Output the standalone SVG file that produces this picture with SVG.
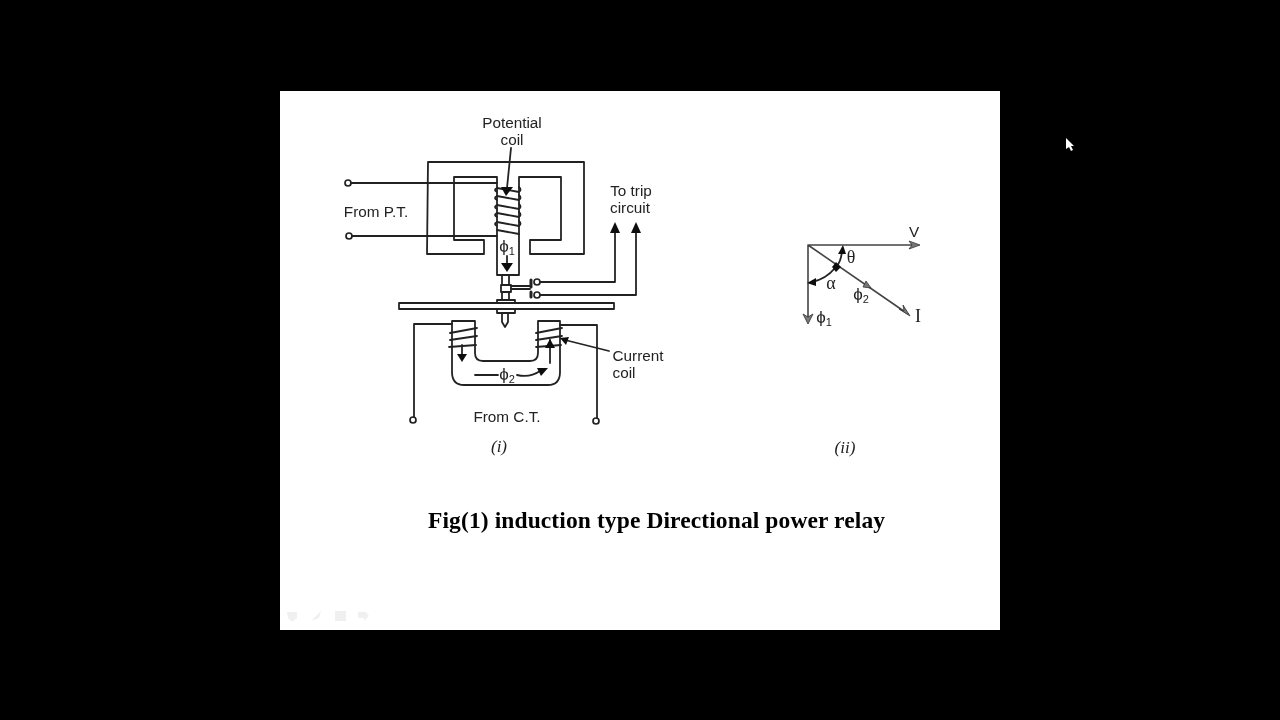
<svg xmlns="http://www.w3.org/2000/svg" width="1280" height="720" viewBox="0 0 1280 720">
<style>
.l{fill:none;stroke:#222;stroke-width:1.8;stroke-linejoin:round;stroke-linecap:round}
.t{stroke-width:1.6;stroke:#444}
.a{fill:#111;stroke:none}
.g{fill:#777;stroke:#333;stroke-width:.8}
.w{fill:#fff;stroke:#222;stroke-width:1.7}
text{font-family:"Liberation Sans",Arial,sans-serif;font-size:15.3px;fill:#222;text-anchor:middle}
.p{font-size:17px}
.s{font-size:11px}
.r{font-family:"Liberation Serif","Times New Roman",serif;font-size:18px}
.i{font-family:"Liberation Serif","Times New Roman",serif;font-style:italic;font-size:17px}
.c{font-family:"Liberation Serif","Times New Roman",serif;font-weight:bold;font-size:23.5px;fill:#000;text-anchor:start}
</style>
<defs>
<filter id="b" x="-5%" y="-5%" width="110%" height="110%"><feGaussianBlur stdDeviation="0.45"/></filter>
</defs>
<rect width="1280" height="720" fill="#000"/>
<rect id="slide" x="280" y="91" width="720" height="539" fill="#fff"/>
<g filter="url(#b)">
<g id="upper-core">
<path class="l" d="M428 162H584V254H530V240H561V177H519V275H497V177H454V240H484V254H427Z"/>
</g>
<g id="potential-coil">
<path class="l" d="M497 188L519 192Q522 190 519 187M497 196L519 200Q522 198 519 195M497 205L519 209Q522 207 519 204M497 213L519 217Q522 215 519 212M497 222L519 226Q522 224 519 221M497 230L519 234"/>
<path class="l" d="M497 188Q493 190 497 192M497 196Q493 198 497 200M497 205Q493 207 497 209M497 213Q493 215 497 217M497 222Q493 224 497 226"/>
</g>
<g id="spindle">
<path class="l" d="M502 275V285M509 275V285M502 292V300M509 292V300"/>
<rect class="l" x="501" y="285" width="10" height="7"/>
<path class="l" d="M511 286H530M511 289H530"/>
<path class="l" d="M531 280V287M531 292V297" style="stroke-width:3"/>
<rect class="l" x="497" y="300" width="18" height="3"/>
<rect class="l" x="497" y="309" width="18" height="4"/>
<path class="l" d="M502 313V322L505 327L508 322V313"/>
</g>
<g id="disc">
<rect class="l" x="399" y="303" width="215" height="6"/>
</g>
<g id="lower-core">
<path class="l" d="M452 321H475V353Q475 361 483 361H530Q538 361 538 353V321H560V372Q560 385 548 385H464Q452 385 452 372Z"/>
</g>
<g id="current-coils">
<path class="l" d="M450 333L477 328M450 340L477 336M449 347L476 345"/>
<path class="l" d="M536 333L562 328M536 340L562 336M536 347L561 345"/>
</g>
<g id="terminals">
<circle class="w" cx="348" cy="183" r="3"/>
<circle class="w" cx="349" cy="236" r="3"/>
<circle class="w" cx="537" cy="282" r="3"/>
<circle class="w" cx="537" cy="295" r="3"/>
<circle class="w" cx="413" cy="420" r="3"/>
<circle class="w" cx="596" cy="421" r="3"/>
</g>
<g id="labels">
<text x="512" y="128">Potential</text>
<text x="512" y="145">coil</text>
<text x="376" y="217">From P.T.</text>
<text x="631" y="196">To trip</text>
<text x="630" y="213">circuit</text>
<text x="638" y="361">Current</text>
<text x="624" y="378">coil</text>
<text x="507" y="422">From C.T.</text>
<text class="p" x="507" y="252">ϕ<tspan class="s" dy="3">1</tspan></text>
<text class="p" x="507" y="380">ϕ<tspan class="s" dy="3">2</tspan></text>
<text class="i" x="499" y="452">(i)</text>
<text class="i" x="845" y="453">(ii)</text>
<text x="914" y="237">V</text>
<text class="r" x="918" y="322">I</text>
<text class="r" x="851" y="263">θ</text>
<text class="r" x="831" y="289">α</text>
<text class="p" x="861" y="300">ϕ<tspan class="s" dy="3">2</tspan></text>
<text class="p" x="824" y="323">ϕ<tspan class="s" dy="3">1</tspan></text>
</g>
<g id="connectors">
<path class="l" d="M351 183H497M352 236H497"/>
<path class="l" d="M540 282H615V232M540 295H636V232"/>
<path class="l" d="M452 324H414V417M560 325H597V418"/>
<path class="l" d="M511 148L507 188"/>
<path class="a" d="M501 187L513 187L506 196Z"/>
<path class="a" d="M610 233L615 222L620 233Z"/>
<path class="a" d="M631 233L636 222L641 233Z"/>
<path class="l" d="M507 256V265"/>
<path class="a" d="M501 263L513 263L507 272Z"/>
<path class="l" d="M462 345V354"/>
<path class="a" d="M457 354L467 354L462 362Z"/>
<path class="l" d="M550 363V340"/>
<path class="a" d="M545 348L555 348L550 339Z"/>
<path class="l" d="M475 375H498M517 375Q530 378 540 371"/>
<path class="a" d="M537 368L548 368L541 376Z"/>
<path class="l" d="M609 351L565 340"/>
<path class="a" d="M560 338L569 337L566 345Z"/>
<path class="l t" d="M808 245H915M808 245V320M808 245L908 314"/>
<path class="g" d="M909 241L920 245L909 249L912 245Z"/>
<path class="g" d="M803 314L808 324L813 314L808 317Z"/>
<path class="g" d="M899 309L910 316L903 305L904 311Z"/>
<path class="g" d="M866 281L871 288L863 287Z"/>
<path class="l" d="M836 267Q841 262 842 251"/>
<path class="a" d="M838 254L843 245L846 254Z"/>
<path class="l" d="M835 268Q826 279 812 282"/>
<path class="a" d="M816 278L807 283L816 286Z"/>
<path class="a" d="M832 267L836 262L841 267L836 272Z"/>
</g>
<text class="c" x="428" y="528" textLength="457">Fig(1) induction type Directional power relay</text>
</g>
<g id="slide-controls" fill="#f0f0f0" filter="url(#b)">
<path d="M287 612H297V618L292 622L288 618Z"/>
<path d="M311 621L321 611L319 618Z"/>
<rect x="335" y="611" width="11" height="10"/>
<path d="M358 612H366L369 616L364 621V618H358Z"/>
</g>
<path id="cursor" d="M1066 138V149L1069 147L1071 151L1073 150L1071 146L1074 146Z" fill="#fff"/>
</svg>
